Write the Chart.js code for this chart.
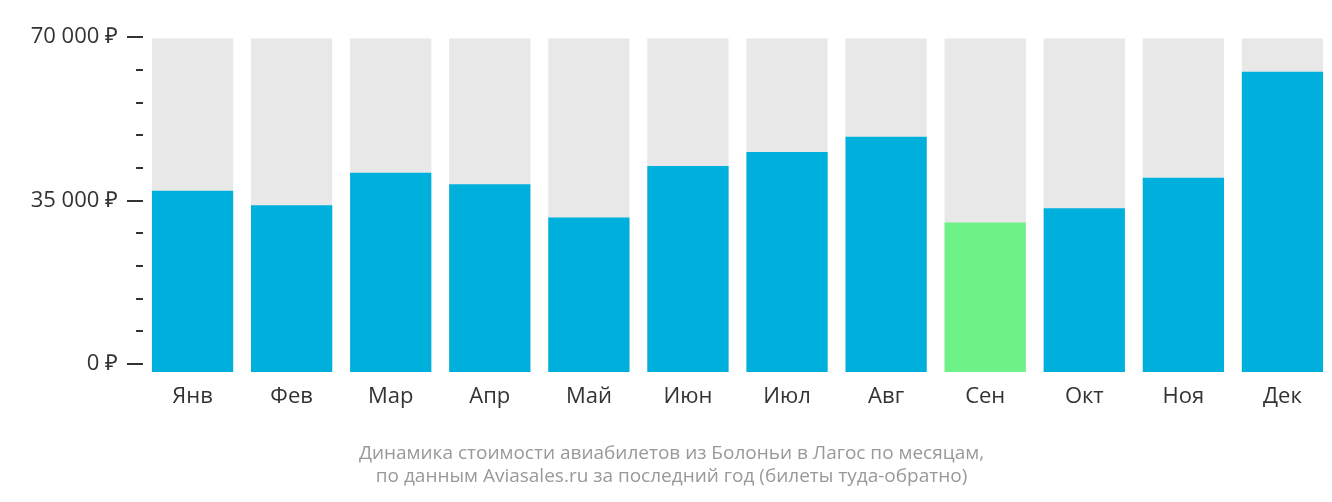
<!DOCTYPE html>
<html><head><meta charset="utf-8">
<script src="https://cdn.jsdelivr.net/npm/chart.js@4/dist/chart.umd.min.js"></script>
<style>html,body{margin:0;padding:0;background:#fff}#w{width:1332px;height:502px}</style>
</head><body><div id="w"><canvas id="c"></canvas></div>
<script>
const categories = ["Янв","Фев","Мар","Апр","Май","Июн","Июл","Авг","Сен","Окт","Ноя","Дек"];
const prices = [38800,35700,42700,40200,33100,44100,47100,50400,32000,35100,41600,64300];
const highlightIndex = 8;
const tickValues = [0,7000,14000,21000,28000,35000,42000,49000,56000,63000,70000];
const labeledTicks = [0,35000,70000];
const axisMax = 71500;
const titleLines = ["Динамика стоимости авиабилетов из Болоньи в Лагос по месяцам,","по данным Aviasales.ru за последний год (билеты туда-обратно)"];

const fmt = v => v === 0 ? "0 ₽" : String(v).replace(/\B(?=(\d{3})+(?!\d))/g, " ") + " ₽";

const tickPlugin = {
  id: 'ticks',
  afterDraw(chart) {
    const s = chart.scales.y, ctx = chart.ctx;
    ctx.save(); ctx.strokeStyle = '#333'; ctx.lineWidth = 2;
    tickValues.forEach(v => {
      const y = Math.round(s.getPixelForValue(v)) - 8;
      const major = labeledTicks.includes(v);
      ctx.beginPath(); ctx.moveTo(major ? 127 : 136, y); ctx.lineTo(143, y); ctx.stroke();
    });
    ctx.restore();
  }
};

new Chart(document.getElementById('c'), {
  type: 'bar',
  data: { labels: categories, datasets: [
    { data: prices, backgroundColor: prices.map((_, i) => i === highlightIndex ? '#6ef287' : '#00b0dc'), categoryPercentage: 0.82, barPercentage: 1, order: 0 },
    { data: categories.map(() => axisMax), backgroundColor: '#e8e8e8', categoryPercentage: 0.82, barPercentage: 1, order: 1 }
  ]},
  options: {
    responsive: true, maintainAspectRatio: false, animation: false,
    layout: { padding: { top: -47, right: -11, left: 0, bottom: 14 } },
    datasets: { bar: { grouped: false } },
    plugins: {
      legend: { display: false }, tooltip: { enabled: false },
      title: { display: true, position: 'bottom', text: titleLines, color: '#999', font: { family: 'Open Sans', size: 19, weight: 'normal' }, padding: { top: 20, bottom: 0 }, lineHeight: 1.95 }
    },
    scales: {
      x: { grid: { display: false, drawTicks: false }, border: { display: false },
           ticks: { color: '#333', font: { family: 'Open Sans', size: 22 }, padding: 12 } },
      y: { min: 0, max: axisMax, afterBuildTicks: a => { a.ticks = tickValues.map(v => ({ value: v })); },
           grid: { display: false, drawTicks: false }, border: { display: false },
           afterFit: a => { a.width = 143; },
           ticks: { color: '#333', font: { family: 'Open Sans', size: 22 }, padding: 25, labelOffset: -8,
                    callback: v => labeledTicks.includes(v) ? fmt(v) : '' } }
    }
  },
  plugins: [tickPlugin]
});
</script></body></html>
